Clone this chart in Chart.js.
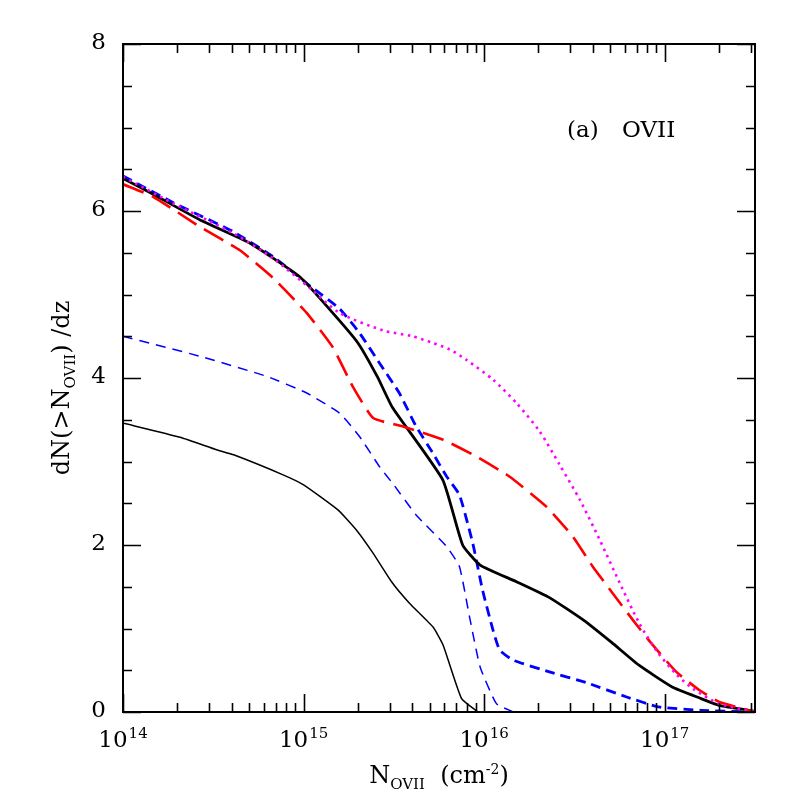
<!DOCTYPE html>
<html>
<head>
<meta charset="utf-8">
<script src="https://cdn.jsdelivr.net/npm/chart.js@4.4.1/dist/chart.umd.min.js"></script>
<style>
html, body { margin: 0; padding: 0; background: #fff; }
</style>
</head>
<body>
<canvas id="myChart" width="797" height="797"></canvas>
<script>
// column density N (cm^-2) and dN(>N)/dz

// thick black solid
var totalN = [1e14, 1.47e14, 2.69e14, 5.0e14, 9.55e14, 1.45e15, 2.0e15, 2.57e15, 3.1e15, 5.9e15, 7.6e15, 9.5e15, 1.51e16, 2.3e16, 3.55e16, 5.1e16, 7.2e16, 1.1e17, 1.55e17, 2.0e17, 3.16e17];
var totalY = [6.39, 6.20, 5.89, 5.62, 5.21, 4.78, 4.42, 4.01, 3.65, 2.78, 2.00, 1.76, 1.56, 1.37, 1.10, 0.83, 0.56, 0.30, 0.17, 0.08, 0.01];

// thin black solid
var thinN = [1e14, 2.07e14, 3.3e14, 4.1e14, 7.7e14, 1.0e15, 1.55e15, 1.96e15, 2.43e15, 3.07e15, 3.87e15, 5.2e15, 5.93e15, 7.5e15, 9.25e15];
var thinY = [3.46, 3.29, 3.14, 3.08, 2.84, 2.72, 2.42, 2.18, 1.90, 1.56, 1.30, 1.02, 0.80, 0.16, 0.0];

// thick blue short dash
var blueN = [1e14, 1.9e14, 4.1e14, 6.8e14, 1.12e15, 1.58e15, 2.04e15, 2.63e15, 3.39e15, 4.2e15, 5.2e15, 6.2e15, 7.3e15, 8.65e15, 9.8e15, 1.12e16, 1.22e16, 1.45e16, 2.3e16, 3.7e16, 6.15e16, 9.3e16, 1.6e17, 3.16e17];
var blueY = [6.42, 6.10, 5.75, 5.45, 5.08, 4.83, 4.54, 4.18, 3.82, 3.42, 3.10, 2.82, 2.60, 2.02, 1.46, 0.98, 0.74, 0.62, 0.48, 0.35, 0.18, 0.06, 0.02, 0.0];

// thin blue short dash
var blueThinN = [1e14, 2.67e14, 6.24e14, 1.04e15, 1.58e15, 2.04e15, 2.63e15, 3.16e15, 4.2e15, 6.2e15, 7.3e15, 8.3e15, 9.5e15, 1.17e16, 1.45e16];
var blueThinY = [4.50, 4.26, 4.02, 3.82, 3.58, 3.30, 2.94, 2.72, 2.36, 1.98, 1.74, 1.14, 0.54, 0.10, 0.0];

// red long dash
var redN = [1e14, 1.47e14, 2.67e14, 4.44e14, 6.76e14, 1.04e15, 1.45e15, 1.87e15, 2.43e15, 3.55e15, 5.93e15, 9.06e15, 1.38e16, 2.21e16, 3.1e16, 4.0e16, 5.16e16, 6.67e16, 8.6e16, 1.16e17, 1.56e17, 2.01e17, 3.16e17];
var redY = [6.32, 6.17, 5.81, 5.53, 5.20, 4.78, 4.37, 3.90, 3.52, 3.42, 3.26, 3.06, 2.82, 2.46, 2.10, 1.74, 1.42, 1.10, 0.80, 0.48, 0.26, 0.12, 0.0];

// magenta dotted
var magN = [1e14, 1.9e14, 4.1e14, 6.8e14, 1.12e15, 1.58e15, 2.75e15, 4.0e15, 5.2e15, 6.46e15, 7.94e15, 1.12e16, 1.51e16, 2.03e16, 2.62e16, 3.39e16, 4.37e16, 5.62e16, 7.24e16, 9.1e16, 1.15e17, 1.43e17, 2.0e17, 3.16e17];
var magY = [6.41, 6.09, 5.73, 5.43, 5.05, 4.78, 4.57, 4.50, 4.42, 4.34, 4.22, 3.98, 3.70, 3.36, 2.96, 2.54, 2.06, 1.55, 1.06, 0.72, 0.46, 0.28, 0.10, 0.0];

// axis ticks
var yTicks = [0, 2, 4, 6, 8];
var yTickLabels = ['0', '2', '4', '6', '8'];
var xTickExp = [14, 15, 16, 17];

var xMin = 1e14;
var xMax = 3.1623e17;

function toPoints(xs, ys) {
  var pts = [];
  for (var i = 0; i < xs.length; i++) {
    pts.push({x: xs[i], y: ys[i]});
  }
  return pts;
}

var serif = '"DejaVu Serif", "Liberation Serif", serif';

// draws the frame, inward ticks and all the labels
var framePlugin = {
  id: 'frame',
  afterDraw: function(chart) {
    var ctx = chart.ctx;
    var a = chart.chartArea;
    var xs = chart.scales.x;
    var ys = chart.scales.y;
    ctx.save();
    ctx.strokeStyle = '#000';
    ctx.lineWidth = 2;
    ctx.strokeRect(a.left, a.top, a.right - a.left, a.bottom - a.top);

    ctx.lineWidth = 1.6;
    ctx.beginPath();
    // y ticks, every 0.5, long ones at the labels
    for (var v = 0; v <= 8; v += 0.5) {
      var py = Math.round(ys.getPixelForValue(v)) + 0.5;
      var len = (v % 2 === 0) ? 18 : 9;
      ctx.moveTo(a.left, py); ctx.lineTo(a.left + len, py);
      ctx.moveTo(a.right, py); ctx.lineTo(a.right - len, py);
    }
    // x ticks, decades and 2..9
    for (var d = 14; d <= 17; d++) {
      for (var k = 1; k <= 9; k++) {
        var val = k * Math.pow(10, d);
        if (val < xMin || val > xMax) continue;
        var px = Math.round(xs.getPixelForValue(val)) + 0.5;
        var l = (k === 1) ? 18 : 9;
        ctx.moveTo(px, a.bottom); ctx.lineTo(px, a.bottom - l);
        ctx.moveTo(px, a.top); ctx.lineTo(px, a.top + l);
      }
    }
    ctx.stroke();

    ctx.fillStyle = '#000';
    // y tick labels
    ctx.font = '23px ' + serif;
    ctx.textAlign = 'right';
    ctx.textBaseline = 'middle';
    for (var i = 0; i < yTicks.length; i++) {
      ctx.fillText(yTickLabels[i], a.left - 17, ys.getPixelForValue(yTicks[i]) - 1);
    }

    // x tick labels 10^n
    ctx.textBaseline = 'alphabetic';
    ctx.textAlign = 'left';
    for (var j = 0; j < xTickExp.length; j++) {
      var cx = xs.getPixelForValue(Math.pow(10, xTickExp[j]));
      ctx.font = '23px ' + serif;
      var w1 = ctx.measureText('10').width;
      ctx.font = '15px ' + serif;
      var w2 = ctx.measureText(String(xTickExp[j])).width;
      var x0 = cx - (w1 + w2 + 1) / 2;
      ctx.font = '23px ' + serif;
      ctx.fillText('10', x0, 747);
      ctx.font = '15px ' + serif;
      ctx.fillText(String(xTickExp[j]), x0 + w1 + 1, 738);
    }

    // x axis title: N_OVII (cm^-2)
    var parts = [
      {t: 'N', f: 24, dy: 0},
      {t: 'OVII', f: 15, dy: 6},
      {t: '  (cm', f: 24, dy: 0},
      {t: '-2', f: 14, dy: -9},
      {t: ')', f: 24, dy: 0}
    ];
    drawParts(ctx, parts, 439, 783);

    // y axis title, rotated
    ctx.save();
    ctx.translate(69, 388);
    ctx.rotate(-Math.PI / 2);
    var yparts = [
      {t: 'dN(>N', f: 24, dy: 0},
      {t: 'OVII', f: 15, dy: 6},
      {t: ') /dz', f: 24, dy: 0}
    ];
    drawParts(ctx, yparts, 0, 0);
    ctx.restore();

    // panel label
    ctx.font = '23px ' + serif;
    ctx.textAlign = 'left';
    ctx.fillText('(a)', 567, 137);
    ctx.fillText('OVII', 622, 137);

    ctx.restore();
  }
};

function drawParts(ctx, parts, cx, base) {
  var total = 0;
  for (var i = 0; i < parts.length; i++) {
    ctx.font = parts[i].f + 'px ' + serif;
    parts[i].w = ctx.measureText(parts[i].t).width;
    total += parts[i].w;
  }
  var x = cx - total / 2;
  ctx.textAlign = 'left';
  ctx.textBaseline = 'alphabetic';
  for (var k = 0; k < parts.length; k++) {
    ctx.font = parts[k].f + 'px ' + serif;
    ctx.fillText(parts[k].t, x, base + parts[k].dy);
    x += parts[k].w;
  }
}

var ctx = document.getElementById('myChart');

var data = {
  datasets: [
    {label: 'magenta', data: toPoints(magN, magY), borderColor: '#ff00ff', borderWidth: 2.6, borderDash: [2.5, 4.5], tension: 0.25},
    {label: 'thin', data: toPoints(thinN, thinY), borderColor: '#000', borderWidth: 1.5},
    {label: 'blueThin', data: toPoints(blueThinN, blueThinY), borderColor: '#0000ff', borderWidth: 1.5, borderDash: [10, 7]},
    {label: 'red', data: toPoints(redN, redY), borderColor: '#ff0000', borderWidth: 2.6, borderDash: [22, 9]},
    {label: 'total', data: toPoints(totalN, totalY), borderColor: '#000', borderWidth: 2.8},
    {label: 'blue', data: toPoints(blueN, blueY), borderColor: '#0000ff', borderWidth: 2.8, borderDash: [10, 6]}
  ]
};

var options = {
  responsive: false,
  animation: false,
  devicePixelRatio: 1,
  layout: {
    padding: {left: 123, right: 42, top: 44, bottom: 85}
  },
  elements: {
    point: {radius: 0},
    line: {tension: 0.15, fill: false, borderCapStyle: 'butt', borderJoinStyle: 'round'}
  },
  plugins: {
    legend: {display: false},
    tooltip: {enabled: false}
  },
  scales: {
    x: {type: 'logarithmic', min: xMin, max: xMax, display: false},
    y: {type: 'linear', min: 0, max: 8, display: false}
  }
};

var myChart = new Chart(ctx, {
  type: 'line',
  data: data,
  options: options,
  plugins: [framePlugin]
});
</script>
</body>
</html>
